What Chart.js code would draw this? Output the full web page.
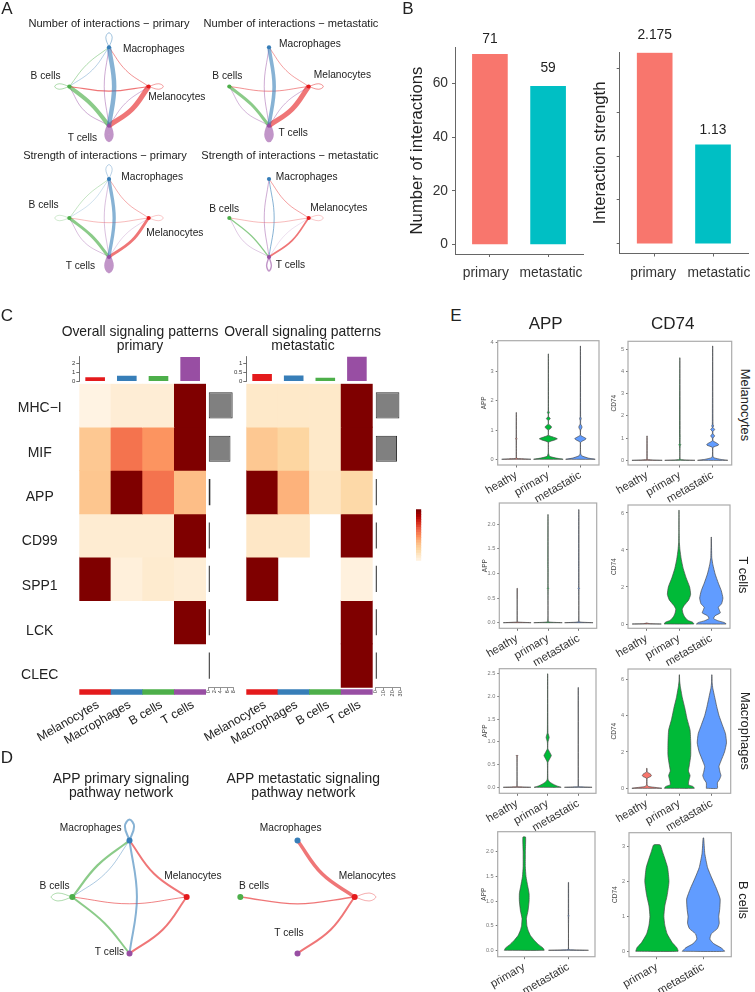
<!DOCTYPE html>
<html>
<head>
<meta charset="utf-8">
<title>Cell communication figure</title>
<script src="https://cdn.jsdelivr.net/npm/chart.js@4"></script>
<style>
  body { margin: 0; background: #fff; width: 755px; height: 992px; overflow: hidden; position: relative; font-family: "Liberation Sans", Arial, sans-serif; color: #222; }
  canvas { position: absolute; }
  .txt { position: absolute; white-space: nowrap; line-height: 1; }
</style>
</head>
<body>
<script>
// ---- network data: nodes are Macrophages, Melanocytes, T cells, B cells
var nodeNames = ['Macrophages', 'Melanocytes', 'T cells', 'B cells'];
var nodeX = [0, 1, 0, -1];
var nodeY = [1, 0, -1, 0];
var nodeColors = ['#377EB8', '#E41A1C', '#984EA3', '#4DAF4A'];
var edgeColors = ['rgba(55,126,184,0.6)', 'rgba(228,26,28,0.6)', 'rgba(152,78,163,0.6)', 'rgba(77,175,74,0.65)'];

// curve waypoint of every from>to edge
var bends = {
  '0>2': [0.13, 0], '2>0': [-0.12, 0], '1>0': [0.43, 0.41], '3>0': [-0.56, 0.56], '0>3': [-0.42, 0.42],
  '1>3': [0, -0.12], '3>2': [-0.44, -0.46], '2>3': [-0.62, -0.62], '1>2': [0.58, -0.58], '2>1': [0.42, -0.42]
};
var loopX = [[0, -0.08, 0, 0.08, 0], [1, 1.25, 1.37, 1.25, 1], [0, -0.06, 0, 0.06, 0], [-1, -1.25, -1.37, -1.25, -1]];
var loopY = [[1, 1.25, 1.37, 1.25, 1], [0, 0.07, 0, -0.07, 0], [-1, -1.22, -1.36, -1.22, -1], [0, 0.07, 0, -0.07, 0]];

// [from, to, weight]
var numPrimary = [[0,2,4.5],[2,0,0.8],[1,0,0.8],[3,0,0.7],[0,3,0.6],[1,3,1.2],[3,2,4],[2,3,0.8],[1,2,5],[2,1,0.7],[0,0,0.8],[1,1,0.7],[3,3,0.7],[2,2,4.6]];
var numMeta = [[0,2,3.6],[2,0,0.8],[1,0,0.7],[1,3,0.8],[3,2,3],[2,3,0.7],[1,2,5],[2,1,0.7],[1,1,0.8],[2,2,4.8]];
var strPrimary = [[0,2,3.3],[2,0,0.6],[1,0,0.6],[3,0,0.5],[0,3,0.4],[1,3,0.5],[3,2,3],[2,3,0.6],[1,2,2.8],[2,1,0.4],[0,0,0.6],[1,1,0.4],[3,3,0.4],[2,2,4.8]];
var strMeta = [[0,2,1],[2,0,0.8],[1,0,0.7],[1,3,0.5],[3,2,1.3],[2,3,0.5],[1,2,1.8],[2,1,0.3],[1,1,0.4],[2,2,1.4]];
var appPrimary = [[0,2,2],[3,0,2.2],[0,3,0.7],[1,0,2],[1,3,0.9],[3,2,2],[1,2,2],[0,0,2],[3,3,0.7]];
var appMeta = [[1,0,3.5],[1,3,1.3],[1,2,2],[1,1,0.6]];

// where the node names sit, in network units
var numPrimaryLabelX = [1.13, 1.71, -0.67, -1.6];
var numPrimaryLabelY = [0.94, -0.28, -1.31, 0.25];
var numMetaLabelX = [1.03, 1.85, 0.61, -1.05];
var numMetaLabelY = [1.07, 0.28, -1.18, 0.25];
var strPrimaryLabelX = [1.09, 1.66, -0.72, -1.65];
var strPrimaryLabelY = [1.04, -0.40, -1.23, 0.34];
var strMetaLabelX = [0.95, 1.76, 0.54, -1.13];
var strMetaLabelY = [1.05, 0.26, -1.21, 0.22];
var appPrimaryLabelX = [-0.68, 1.11, -0.35, -1.31];
var appPrimaryLabelY = [1.22, 0.37, -0.98, 0.19];
var appMetaLabelX = [-0.12, 1.22, -0.15, -0.76];
var appMetaLabelY = [1.22, 0.37, -0.64, 0.19];

// ---- bar panels
var barCats = ['primary', 'metastatic'];
var interactionCounts = [71, 59];
var interactionStrength = [2.175, 1.13];
var barColors = ['#F8766D', '#00BFC4'];

// ---- heatmaps
var patternRows = ['MHC\u2212I', 'MIF', 'APP', 'CD99', 'SPP1', 'LCK', 'CLEC'];
var cellTypes = ['Melanocytes', 'Macrophages', 'B cells', 'T cells'];
var cellColors = ['#E41A1C', '#377EB8', '#4DAF4A', '#984EA3'];
var heatPrimary = [
  [0.03, 0.08, 0.08, 1],
  [0.31, 0.58, 0.48, 1],
  [0.32, 1, 0.58, 0.36],
  [0.09, 0.09, 0.09, 1],
  [1, 0.06, 0.1, 0.08],
  [null, null, null, 1],
  [null, null, null, null]
];
var heatMeta = [
  [0.12, 0.12, 0.12, 1],
  [0.31, 0.24, 0.12, 1],
  [1, 0.4, 0.14, 0.22],
  [0.13, 0.13, null, 1],
  [1, null, null, 0.05],
  [null, null, null, 1],
  [null, null, null, 1]
];
// CLEC first, going up the axis
var rowLabelPos = [0.28, 1.30, 2.34, 3.36, 4.39, 5.40, 6.44];
var topPrimary = [0.45, 0.63, 0.6, 2.7];
var topMeta = [0.41, 0.32, 0.2, 1.36];
var sidePrimary = [7.8, 7.1, 0.65, 0.45, 0.3, 0.3, 0.05];
var sideMeta = [28.8, 26, 0.8, 0.5, 0.4, 0.4, 0.4];
var colorbarLevels = [0, 0.05, 0.1, 0.15, 0.2, 0.25, 0.3, 0.35, 0.4, 0.45, 0.5, 0.55, 0.6, 0.65, 0.7, 0.75, 0.8, 0.85, 0.9, 0.95];

// ---- violins, every profile is [expression, half width]
var groupColors = { heathy: '#F8766D', primary: '#00BA38', metastatic: '#619CFF' };
var melApp = {
  heathy: [[0,.455],[.012,.3],[.03,.02],[.05,.005],[.68,.005],[.7,.03],[.72,.005],[1.6,.003]],
  primary: [[0,.46],[.04,.25],[.1,.04],[.2,.008],[.58,.008],[.66,.2],[.7,.28],[.74,.2],[.82,.008],[1,.008],[1.06,.08],[1.1,.1],[1.14,.08],[1.2,.008],[1.32,.008],[1.39,.06],[1.46,.008],[1.55,.006],[1.6,.03],[1.65,.006],[3.6,.003]],
  metastatic: [[0,.46],[.04,.25],[.12,.04],[.2,.008],[.58,.008],[.66,.13],[.7,.18],[.74,.13],[.82,.008],[1,.008],[1.06,.04],[1.1,.05],[1.14,.04],[1.2,.008],[1.32,.008],[1.39,.025],[1.46,.006],[3.87,.003]]
};
var melCd74 = {
  heathy: [[0,.46],[.015,.2],[.04,.01],[.1,.005],[1.1,.004]],
  primary: [[0,.46],[.015,.2],[.05,.012],[.65,.01],[.7,.03],[.75,.01],[1.1,.01],[4.62,.003]],
  metastatic: [[0,.46],[.04,.25],[.12,.03],[.2,.008],[.58,.01],[.68,.17],[.72,.18],[.78,.12],[.88,.01],[1,.01],[1.1,.06],[1.2,.01],[1.3,.01],[1.39,.06],[1.48,.01],[1.55,.03],[1.62,.01],[5.15,.003]]
};
var tcellApp = {
  heathy: [[0,.45],[.01,.1],[.02,.005],[.7,.004]],
  primary: [[0,.46],[.01,.1],[.025,.006],[.68,.006],[.7,.025],[.72,.006],[1.1,.006],[2.2,.003]],
  metastatic: [[0,.46],[.01,.1],[.025,.006],[.68,.006],[.7,.025],[.72,.006],[1.1,.006],[2.3,.003]]
};
var tcellCd74 = {
  heathy: [[0,.45],[.02,.1],[.05,.003],[.06,.002]],
  primary: [[0,.46],[.1,.42],[.2,.27],[.4,.17],[.6,.12],[.8,.1],[1,.16],[1.3,.3],[1.6,.36],[2,.33],[2.5,.22],[3,.13],[3.5,.07],[4,.03],[4.4,.012],[5,.006],[6.15,.003]],
  metastatic: [[0,.46],[.08,.4],[.18,.2],[.3,.07],[.45,.12],[.6,.28],[.75,.25],[.9,.22],[1.1,.32],[1.4,.36],[1.8,.31],[2.2,.22],[2.7,.12],[3.2,.05],[3.6,.015],[4.7,.003]]
};
var macApp = {
  heathy: [[0,.45],[.01,.05],[.02,.004],[.68,.005],[.7,.03]],
  primary: [[0,.44],[.03,.3],[.08,.15],[.13,.05],[.18,.01],[.55,.01],[.62,.06],[.7,.12],[.78,.06],[.85,.008],[1,.01],[1.1,.05],[1.2,.01],[2.5,.004]],
  metastatic: [[0,.45],[.01,.05],[.02,.003],[2.2,.003]]
};
var macCd74 = {
  heathy: [[0,.46],[.04,.3],[.1,.05],[.2,.01],[.55,.01],[.65,.12],[.72,.14],[.8,.1],[.9,.01],[1.1,.006]],
  primary: [[0,.46],[.1,.42],[.2,.28],[.4,.29],[.7,.33],[.95,.28],[1.3,.31],[1.8,.35],[2.5,.35],[3.2,.33],[3.8,.24],[4.4,.17],[5,.09],[5.6,.03],[5.9,.01],[6.25,.003]],
  metastatic: [[0,.17],[.3,.17],[.5,.24],[.7,.28],[.9,.25],[1.2,.22],[1.5,.28],[2,.39],[2.5,.45],[3,.42],[3.5,.32],[4,.22],[4.5,.15],[5,.09],[5.5,.03],[5.8,.01],[6.25,.003]]
};
var bcellApp = {
  primary: [[0,.45],[.05,.42],[.12,.32],[.2,.23],[.3,.14],[.4,.09],[.5,.06],[.65,.05],[.8,.085],[1,.11],[1.15,.11],[1.3,.08],[1.5,.04],[1.7,.025],[2,.025],[2.3,.03]],
  metastatic: [[0,.45],[.01,.05],[.02,.003],[.68,.004],[.7,.012],[.72,.004],[1.38,.003]]
};
var bcellCd74 = {
  primary: [[0,.455],[.1,.43],[.25,.33],[.5,.22],[.75,.17],[1,.15],[1.3,.17],[1.6,.22],[2,.26],[2.4,.23],[2.7,.16],[2.9,.11],[3.05,.07]],
  metastatic: [[0,.455],[.1,.38],[.22,.22],[.35,.14],[.5,.17],[.65,.3],[.8,.34],[1,.33],[1.2,.35],[1.5,.36],[1.8,.28],[2.1,.18],[2.4,.09],[2.8,.03],[3.25,.006]]
};

Chart.defaults.font.family = '"Liberation Sans", Arial, sans-serif';
Chart.defaults.animation = false;
Chart.defaults.events = [];
Chart.defaults.plugins.legend.display = false;
Chart.defaults.plugins.tooltip.enabled = false;

// ---- small helpers
function addText(text, cx, cy, size, rotate, color) {
  var d = document.createElement('div');
  d.className = 'txt';
  d.textContent = text;
  d.style.left = cx + 'px';
  d.style.top = cy + 'px';
  d.style.fontSize = size + 'px';
  if (color) d.style.color = color;
  d.style.transform = 'translate(-50%,-50%) rotate(' + (rotate || 0) + 'deg)';
  document.body.appendChild(d);
}

// plot area given in page pixels, margins hold the axes
function addChart(area, margins, config) {
  var left = Math.round(area[0] - margins[0]);
  var top = Math.round(area[1] - margins[1]);
  var l = area[0] - left, t = area[1] - top;
  var w = Math.ceil(area[2] - area[0] + l + margins[2]);
  var h = Math.ceil(area[3] - area[1] + t + margins[3]);
  var c = document.createElement('canvas');
  c.width = w; c.height = h;
  c.style.left = left + 'px';
  c.style.top = top + 'px';
  document.body.appendChild(c);
  var opt = config.options;
  var xs = opt.scales.x, ys = opt.scales.y;
  var rightPad = w - (area[2] - left), bottomPad = h - (area[3] - top);
  if (xs.display !== false) xs.afterFit = function (s) { s.height = bottomPad; };
  if (ys.display !== false) ys.afterFit = function (s) { s.width = l; };
  opt.layout = { padding: { top: t, right: rightPad, left: ys.display === false ? l : 0, bottom: xs.display === false ? bottomPad : 0 } };
  opt.responsive = false;
  opt.devicePixelRatio = 1;
  return new Chart(c.getContext('2d'), config);
}

function fixedTicks(values) {
  return function (axis) { axis.ticks = values.map(function (v) { return { value: v }; }); };
}

function orRd(v) {
  var stops = [[255,247,236],[254,232,200],[253,212,158],[253,187,132],[252,141,89],[239,101,72],[215,48,31],[179,0,0],[127,0,0]];
  var p = v * (stops.length - 1), i = Math.min(Math.floor(p), stops.length - 2), f = p - i;
  var rgb = stops[i].map(function (a, k) { return Math.round(a + (stops[i + 1][k] - a) * f); });
  return 'rgb(' + rgb.join(',') + ')';
}

// ---- plugins
var nodeLabelPlugin = {
  id: 'nodeLabels',
  afterDraw: function (chart, args, o) {
    var ctx = chart.ctx;
    ctx.save();
    ctx.font = '10.2px "Liberation Sans"';
    ctx.fillStyle = '#222';
    ctx.textAlign = 'center';
    ctx.textBaseline = 'middle';
    nodeNames.forEach(function (name, i) {
      ctx.fillText(name, chart.scales.x.getPixelForValue(o.xs[i]), chart.scales.y.getPixelForValue(o.ys[i]));
    });
    ctx.restore();
  }
};
var valueLabelPlugin = {
  id: 'valueLabels',
  afterDraw: function (chart, args, o) {
    var ctx = chart.ctx;
    ctx.save();
    ctx.font = '13.8px "Liberation Sans"';
    ctx.fillStyle = '#222';
    ctx.textAlign = 'center';
    ctx.textBaseline = 'middle';
    chart.getDatasetMeta(0).data.forEach(function (bar, i) {
      ctx.fillText(String(o.texts[i]), bar.x, bar.y - o.gaps[i]);
    });
    ctx.restore();
  }
};
var framePlugin = {
  id: 'frame',
  afterDraw: function (chart) {
    var a = chart.chartArea, ctx = chart.ctx;
    ctx.save();
    ctx.strokeStyle = '#ababab';
    ctx.lineWidth = 1.2;
    ctx.strokeRect(a.left, a.top, a.right - a.left, a.bottom - a.top);
    ctx.restore();
  }
};
var violinFillPlugin = {
  id: 'violinFill',
  beforeDatasetDraw: function (chart, args) {
    var line = args.meta.dataset, ctx = chart.ctx;
    line.updateControlPoints(chart.chartArea, 'x');
    ctx.save();
    ctx.beginPath();
    line.path(ctx);
    ctx.closePath();
    ctx.fillStyle = chart.data.datasets[args.index].backgroundColor;
    ctx.fill();
    ctx.restore();
  }
};

// ---- network panels
function network(cx, cy, unit, edges, labelX, labelY, nodeRadius) {
  var sets = [{
    data: nodeX.map(function (x, i) { return { x: x, y: nodeY[i] }; }),
    pointRadius: nodeRadius,
    pointBackgroundColor: nodeColors,
    pointBorderWidth: 0,
    showLine: false
  }];
  edges.forEach(function (e) {
    var pts;
    if (e[0] === e[1]) {
      pts = loopX[e[0]].map(function (x, i) { return { x: x, y: loopY[e[0]][i] }; });
    } else {
      var b = bends[e[0] + '>' + e[1]];
      pts = [{ x: nodeX[e[0]], y: nodeY[e[0]] }, { x: b[0], y: b[1] }, { x: nodeX[e[1]], y: nodeY[e[1]] }];
    }
    sets.push({ data: pts, showLine: true, pointRadius: 0, tension: 0.4, borderWidth: e[2], borderColor: edgeColors[e[0]] });
  });
  addChart([cx - 3 * unit, cy - 2 * unit, cx + 3 * unit, cy + 2 * unit], [0, 0, 0, 0], {
    type: 'scatter',
    data: { datasets: sets },
    plugins: [nodeLabelPlugin],
    options: {
      plugins: { nodeLabels: { xs: labelX, ys: labelY } },
      scales: {
        x: { display: false, min: -3, max: 3 },
        y: { display: false, min: -2, max: 2 }
      }
    }
  });
}
network(108.5, 86.4, 41, numPrimary, numPrimaryLabelX, numPrimaryLabelY, 2.1);
network(269, 86.4, 41, numMeta, numMetaLabelX, numMetaLabelY, 2.1);
network(108.5, 217.5, 41, strPrimary, strPrimaryLabelX, strPrimaryLabelY, 2.1);
network(269, 217.5, 41, strMeta, strMetaLabelX, strMetaLabelY, 2.1);
network(129.5, 896.5, 58.5, appPrimary, appPrimaryLabelX, appPrimaryLabelY, 3);
network(297.5, 896.5, 58.5, appMeta, appMetaLabelX, appMetaLabelY, 3);

// ---- panel B, the names under the axis do not sit quite under the bars
function barPanel(area, margins, values, yMin, yMax, yTicks, showLabels, title, gaps, namePos) {
  var xTicks = namePos.concat([1, 2]).sort();
  addChart(area, margins, {
    type: 'bar',
    data: { datasets: [{
      data: values.map(function (v, i) { return { x: i + 1, y: v }; }),
      backgroundColor: barColors,
      barThickness: 35
    }] },
    plugins: [valueLabelPlugin],
    options: {
      plugins: { valueLabels: { texts: values, gaps: gaps } },
      scales: {
        x: {
          type: 'linear', min: 0.4, max: 2.6, offset: false,
          afterBuildTicks: fixedTicks(xTicks),
          grid: {
            drawOnChartArea: false, offset: false, tickLength: 3,
            tickColor: function (c) { return c.tick && (c.tick.value === 1 || c.tick.value === 2) ? '#666' : 'transparent'; }
          },
          border: { color: '#666', width: 1 },
          ticks: {
            autoSkip: false, maxRotation: 0, padding: 8, color: '#333', font: { size: 13.8 },
            callback: function (v) { var k = namePos.indexOf(v); return k < 0 ? '' : barCats[k]; }
          }
        },
        y: {
          min: yMin, max: yMax,
          afterBuildTicks: fixedTicks(yTicks),
          grid: { drawOnChartArea: false, tickLength: 3, color: '#666' },
          border: { color: '#666', width: 1 },
          title: { display: true, text: title, color: '#222', font: { size: 16.7 }, padding: 0 },
          ticks: { autoSkip: false, padding: 4, color: '#333', font: { size: 13.8 }, callback: function (v) { return showLabels ? String(v) : ''; } }
        }
      }
    }
  });
}
barPanel([455, 47, 583, 254], [48, 22, 22, 32], interactionCounts, -3.6, 73.7, [0, 20, 40, 60], true, 'Number of interactions', [15, 18], [0.93, 2.05]);
barPanel([619.7, 52.3, 748, 253.5], [30, 27, 22, 32], interactionStrength, -0.112, 2.185, [0, 0.5, 1, 1.5, 2], false, 'Interaction strength', [18, 15], [0.975, 2.1]);

// ---- panel C
function heatmap(area, matrix, showRows) {
  var sets = [{
    data: cellTypes.map(function () { return [-0.17, -0.05]; }),
    backgroundColor: cellColors, grouped: false, barPercentage: 1, categoryPercentage: 1
  }];
  matrix.forEach(function (row, r) {
    sets.push({
      data: row.map(function (v) { return v === null ? null : [6 - r, 7 - r]; }),
      backgroundColor: row.map(function (v) { return v === null ? 'transparent' : orRd(v); }),
      grouped: false, barPercentage: 1, categoryPercentage: 1
    });
  });
  addChart(area, [79, 20, 10, 55], {
    type: 'bar',
    data: { labels: cellTypes, datasets: sets },
    options: {
      scales: {
        x: {
          grid: { display: false }, border: { display: false },
          ticks: { minRotation: 30, maxRotation: 30, autoSkip: false, padding: -5, labelOffset: 3, color: '#222', font: { size: 12.3 } }
        },
        y: {
          min: -0.17, max: 7,
          afterBuildTicks: fixedTicks(rowLabelPos),
          grid: { display: false }, border: { display: false },
          ticks: {
            autoSkip: false, crossAlign: 'center', padding: 9.6, color: '#222', font: { size: 14 },
            callback: function (v, i) { return showRows ? patternRows[6 - i] : ''; }
          }
        }
      }
    }
  });
}
heatmap([79.3, 383.7, 206, 694.7], heatPrimary, true);
heatmap([246.3, 383.7, 372.7, 694.7], heatMeta, false);

function topBars(area, values, yMax, tickStrings) {
  addChart(area, [20, 6, 4, 7], {
    type: 'bar',
    data: { labels: cellTypes, datasets: [{ data: values, backgroundColor: cellColors, barPercentage: 0.62, categoryPercentage: 1 }] },
    options: {
      scales: {
        x: { display: false },
        y: {
          min: 0, max: yMax,
          afterBuildTicks: fixedTicks(tickStrings.map(Number)),
          grid: { drawOnChartArea: false, tickLength: 3, color: '#333', lineWidth: 0.7 },
          border: { color: '#333', width: 0.7 },
          ticks: { autoSkip: false, padding: 1, color: '#333', font: { size: 6 }, callback: function (v, i) { return tickStrings[i]; } }
        }
      }
    }
  });
}
topBars([79.3, 356, 206, 381.3], topPrimary, 2.81, ['0', '1', '2']);
topBars([246.3, 356, 372.7, 381.3], topMeta, 1.405, ['0', '0.5', '1']);

// bars thinner than their outline show only as a dark stroke
function sideBars(area, values, xMax, tickStrings) {
  function isThin(c) { return c.raw < xMax / 5; }
  addChart(area, [3, 6, 6, 16], {
    type: 'bar',
    data: { labels: patternRows, datasets: [{
      data: values,
      backgroundColor: function (c) { return isThin(c) ? '#2b2b2b' : '#808080'; },
      borderColor: '#2b2b2b',
      borderWidth: function (c) { return isThin(c) ? 0 : 1; },
      borderSkipped: false, minBarLength: 1.5, barPercentage: 0.6, categoryPercentage: 1
    }] },
    options: {
      indexAxis: 'y',
      scales: {
        y: { display: false },
        x: {
          min: 0, max: xMax,
          afterBuildTicks: fixedTicks(tickStrings.map(Number)),
          grid: { drawOnChartArea: false, tickLength: 3, color: '#777', lineWidth: 0.8 },
          border: { color: '#777', width: 0.8 },
          ticks: { autoSkip: false, minRotation: 90, maxRotation: 90, padding: 0, color: '#444', font: { size: 5.5 }, callback: function (v, i) { return tickStrings[i]; } }
        }
      }
    }
  });
}
sideBars([208.3, 383.7, 233.3, 687.3], sidePrimary, 8, ['0', '2', '4', '6', '8']);
sideBars([375.3, 383.7, 400.7, 687.3], sideMeta, 30, ['0', '10', '20', '30']);

// colour key, bottom is the lightest level
addChart([415.7, 509.3, 421.3, 560.7], [0, 0, 0, 0], {
  type: 'bar',
  data: { labels: ['key'], datasets: colorbarLevels.map(function (l) {
    return { data: [[l, l + 0.05]], backgroundColor: orRd(l + 0.05), grouped: false, barPercentage: 1, categoryPercentage: 1 };
  }) },
  options: { scales: { x: { display: false }, y: { display: false, min: 0, max: 1 } } }
});

// ---- panel E
function violin(area, groups, yMin, yMax, tickStrings, yTitle) {
  var names = Object.keys(groups);
  var sets = names.map(function (name, i) {
    var prof = groups[name], left = [], right = [];
    prof.forEach(function (p) {
      left.push({ x: i + 1 - p[1], y: p[0] });
      right.unshift({ x: i + 1 + p[1], y: p[0] });
    });
    var pts = left.concat(right);
    pts.push(pts[0]);
    return {
      data: pts, showLine: true, pointRadius: 0, tension: 0.15,
      borderColor: 'rgba(70,70,70,0.85)', borderWidth: 0.8,
      backgroundColor: groupColors[name]
    };
  });
  var pad = names.length === 3 ? 0.58 : 0.6;
  addChart(area, [18, 7, 4, 44], {
    type: 'scatter',
    data: { datasets: sets },
    plugins: [violinFillPlugin, framePlugin],
    options: {
      scales: {
        x: {
          type: 'linear', min: 1 - pad, max: names.length + pad,
          afterBuildTicks: fixedTicks(names.map(function (n, i) { return i + 1; })),
          grid: { drawOnChartArea: false, tickLength: 2.5, color: '#777' },
          border: { display: false },
          ticks: { autoSkip: false, minRotation: 30, maxRotation: 30, padding: 1, color: '#333', font: { size: 11.4 }, callback: function (v) { return names[v - 1]; } }
        },
        y: {
          min: yMin, max: yMax,
          afterBuildTicks: fixedTicks(tickStrings.map(Number)),
          grid: { drawOnChartArea: false, tickLength: 2, color: '#777' },
          border: { display: false },
          title: { display: true, text: yTitle, color: '#444', font: { size: 6.5 }, padding: 0 },
          ticks: { autoSkip: false, padding: 2, color: '#777', font: { size: 5.6 }, callback: function (v, i) { return tickStrings[i]; } }
        }
      }
    }
  });
}
violin([497.7, 340.7, 599, 465], melApp, -0.195, 4.05, ['0', '1', '2', '3', '4'], 'APP');
violin([628, 341.3, 731.7, 465], melCd74, -0.21, 5.36, ['0', '1', '2', '3', '4', '5'], 'CD74');
violin([499.3, 503, 596.7, 628.3], tcellApp, -0.114, 2.433, ['0.0', '0.5', '1.0', '1.5', '2.0'], 'APP');
violin([628, 505, 730, 628.3], tcellCd74, -0.232, 6.43, ['0', '2', '4', '6'], 'CD74');
violin([499.3, 668.7, 596, 793.3], macApp, -0.132, 2.612, ['0.0', '0.5', '1.0', '1.5', '2.0', '2.5'], 'APP');
violin([628, 669, 730.7, 793.3], macCd74, -0.275, 6.566, ['0', '2', '4', '6'], 'CD74');
violin([497.7, 831.7, 595, 956.7], bcellApp, -0.13, 2.41, ['0.0', '0.5', '1.0', '1.5', '2.0'], 'APP');
violin([629, 832.7, 731.3, 956.7], bcellCd74, -0.155, 3.40, ['0', '1', '2', '3'], 'CD74');

// ---- page text
addText('A', 7, 8, 17);
addText('B', 408, 8, 17);
addText('C', 7, 315, 17);
addText('D', 7, 757, 17);
addText('E', 456, 315, 17);

addText('Number of interactions \u2212 primary', 109, 24, 11.1);
addText('Number of interactions \u2212 metastatic', 291, 24, 11.1);
addText('Strength of interactions \u2212 primary', 105, 156, 11.1);
addText('Strength of interactions \u2212 metastatic', 290, 156, 11.1);

addText('Overall signaling patterns', 140, 331.7, 13.9);
addText('primary', 140, 346, 13.9);
addText('Overall signaling patterns', 302.7, 331.7, 13.9);
addText('metastatic', 303, 346, 13.9);

addText('APP primary signaling', 121, 778.7, 13.9);
addText('pathway network', 121, 792.7, 13.9);
addText('APP metastatic signaling', 303.3, 778.7, 13.9);
addText('pathway network', 303.3, 792.7, 13.9);

addText('APP', 545.7, 323, 17);
addText('CD74', 672.7, 323, 17);
addText('Melanocytes', 745, 405, 12.9, 90);
addText('T cells', 743, 575, 12.9, 90);
addText('Macrophages', 745, 730.7, 12.9, 90);
addText('B cells', 743, 900, 12.9, 90);
</script>
</body>
</html>
